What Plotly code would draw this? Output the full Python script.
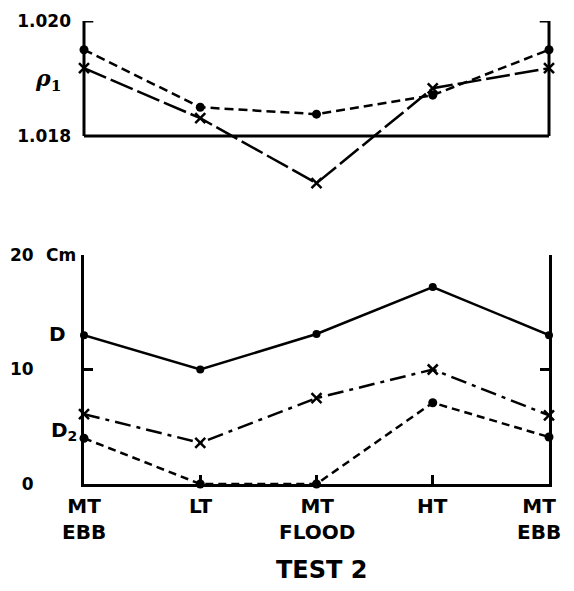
import plotly.graph_objects as go

# ---- data ----
tide_labels = ["MT<br>EBB", "LT", "MT<br>FLOOD", "HT", "MT<br>EBB"]
rho_dots = [1.0195, 1.0185, 1.01838, 1.01871, 1.0195]
rho_cross = [1.01918, 1.01831, 1.01718, 1.01883, 1.01918]
d_upper = [13.0, 10.0, 13.1, 17.2, 13.0]
d_cross = [6.1, 3.6, 7.5, 10.0, 6.0]
d_lower = [4.0, 0.0, 0.0, 7.1, 4.1]
rho_ticks = [1.018, 1.020]
rho_tick_text = ["1.018", "1.020"]
depth_ticks = [0, 10, 20]
depth_tick_text = ["0", "10", "20"]

x = list(range(len(tide_labels)))
BLACK = "black"
NUM_FONT = dict(family="DejaVu Sans", size=17, color=BLACK, weight="bold")
LBL_FONT = dict(family="DejaVu Sans", size=20, color=BLACK, weight="bold")

fig = go.Figure()

# top panel
fig.add_trace(go.Scatter(x=x, y=rho_dots, mode="lines+markers", xaxis="x", yaxis="y",
                         line=dict(color=BLACK, width=2.5, dash="9px,5px"),
                         marker=dict(symbol="circle", size=9, color=BLACK),
                         cliponaxis=False, showlegend=False))
fig.add_trace(go.Scatter(x=x, y=rho_cross, mode="lines+markers", xaxis="x", yaxis="y",
                         line=dict(color=BLACK, width=2.5, dash="24px,5px"),
                         marker=dict(symbol="x-thin", size=10, color=BLACK,
                                     line=dict(color=BLACK, width=2.5)),
                         cliponaxis=False, showlegend=False))

# bottom panel
fig.add_trace(go.Scatter(x=x, y=d_upper, mode="lines+markers", xaxis="x2", yaxis="y2",
                         line=dict(color=BLACK, width=2.5),
                         marker=dict(symbol="circle", size=8, color=BLACK),
                         cliponaxis=False, showlegend=False))
fig.add_trace(go.Scatter(x=x, y=d_cross, mode="lines+markers", xaxis="x2", yaxis="y2",
                         line=dict(color=BLACK, width=2.5, dash="16px,6px,4px,6px"),
                         marker=dict(symbol="x-thin", size=10, color=BLACK,
                                     line=dict(color=BLACK, width=2.5)),
                         cliponaxis=False, showlegend=False))
fig.add_trace(go.Scatter(x=x, y=d_lower, mode="lines+markers", xaxis="x2", yaxis="y2",
                         line=dict(color=BLACK, width=2.5, dash="8px,5px"),
                         marker=dict(symbol="circle", size=9, color=BLACK),
                         cliponaxis=False, showlegend=False))

# frame of the top panel (open at the top)
frame = dict(type="line", xref="x domain", yref="y", line=dict(color=BLACK, width=3))
shapes = [
    dict(frame, x0=0, x1=0, y0=rho_ticks[0], y1=rho_ticks[1]),
    dict(frame, x0=1, x1=1, y0=rho_ticks[0], y1=rho_ticks[1]),
    dict(frame, x0=0, x1=1, y0=rho_ticks[0], y1=rho_ticks[0]),
    dict(frame, x0=0, x1=0.02, y0=rho_ticks[1], y1=rho_ticks[1]),
    dict(frame, x0=0.98, x1=1, y0=rho_ticks[1], y1=rho_ticks[1]),
]

annotations = [
    dict(text="<i>ρ</i><sub>1</sub>", xref="paper", yref="y", x=0, y=1.01897,
         xanchor="right", xshift=-21, showarrow=False,
         font=dict(family="DejaVu Serif", size=22, color=BLACK, weight="bold")),
    dict(text="Cm", xref="paper", yref="y2", x=0, y=20, xanchor="right", xshift=-6,
         showarrow=False, font=dict(family="DejaVu Sans", size=17, color=BLACK, weight="bold")),
    dict(text="D", xref="paper", yref="y2", x=0, y=13.1, xanchor="right", xshift=-16,
         showarrow=False, font=LBL_FONT),
    dict(text="D<sub>2</sub>", xref="paper", yref="y2", x=0, y=4.6, xanchor="right", xshift=-5,
         showarrow=False, font=LBL_FONT),
    dict(text="TEST 2", xref="paper", yref="paper", x=0.5, y=0, xshift=5, yshift=-86,
         yanchor="middle", showarrow=False,
         font=dict(family="DejaVu Sans", size=24, color=BLACK, weight="bold")),
]
# tide-stage labels under the lower panel (last one kept inside the page, as in the original)
for i, lbl in enumerate(tide_labels):
    last = i == len(tide_labels) - 1
    annotations.append(dict(text=lbl, xref="x2", yref="paper", x=x[i], y=0,
                            xanchor="right" if last else "center", xshift=14 if last else 0,
                            yanchor="top", yshift=-8, align="center", showarrow=False,
                            font=LBL_FONT))

fig.update_layout(
    width=558, height=575,
    margin=dict(l=76, r=17, t=13, b=99),
    paper_bgcolor="white", plot_bgcolor="white",
    xaxis=dict(domain=[0, 1], range=[0, 4], anchor="y", visible=False),
    yaxis=dict(domain=[0.6134, 1], range=[1.016887, 1.020], anchor="x",
               showline=False, showgrid=False, zeroline=False, ticks="",
               tickvals=rho_ticks, ticktext=rho_tick_text, tickfont=NUM_FONT,
               ticklabelstandoff=12, automargin=False),
    xaxis2=dict(domain=[0, 1], range=[0, 4], anchor="y2",
                showline=True, linecolor=BLACK, linewidth=3, showgrid=False, zeroline=False,
                ticks="inside", ticklen=9, tickwidth=2.5, tickcolor=BLACK,
                tickvals=x, showticklabels=False, automargin=False),
    yaxis2=dict(domain=[0, 0.4946], range=[0, 20], anchor="x2",
                showline=True, mirror="ticks", linecolor=BLACK, linewidth=3,
                showgrid=False, zeroline=False,
                ticks="inside", ticklen=9, tickwidth=2.5, tickcolor=BLACK,
                tickvals=depth_ticks, ticktext=depth_tick_text, tickfont=NUM_FONT,
                ticklabelstandoff=44, automargin=False),
    shapes=shapes,
    annotations=annotations,
)

fig.write_html("out.html")
